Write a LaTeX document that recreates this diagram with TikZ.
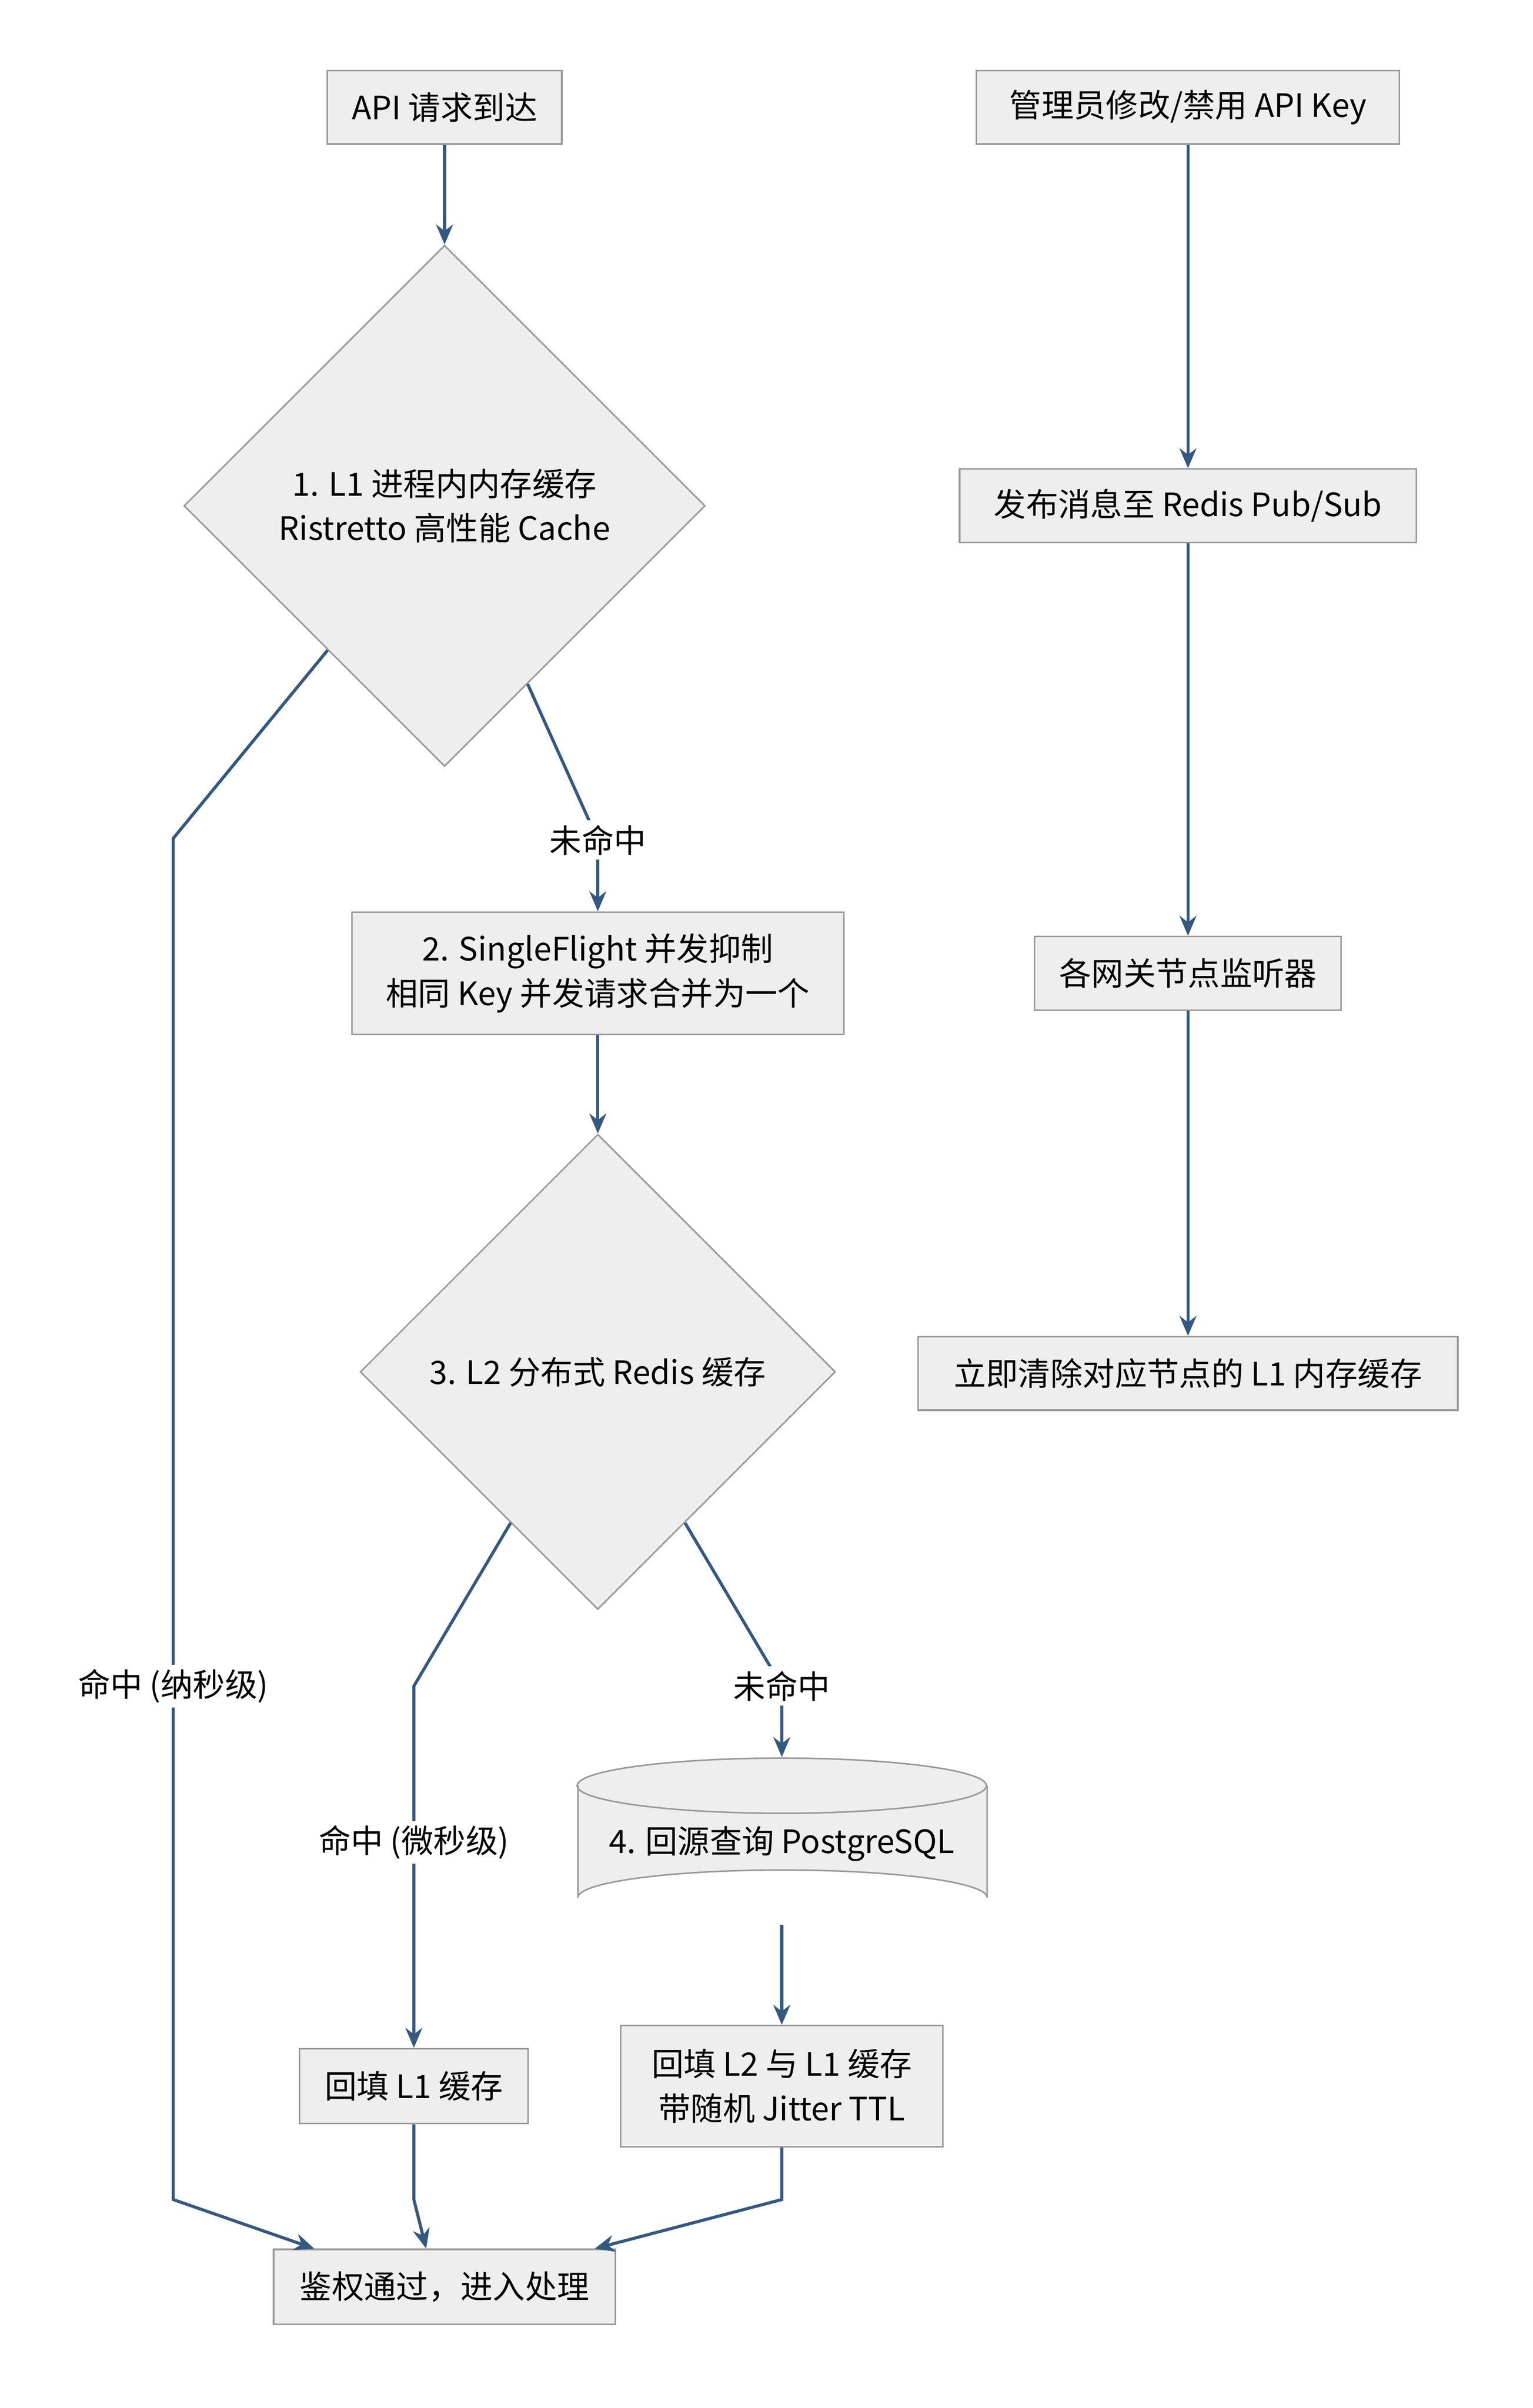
\documentclass[tikz,border=0pt]{standalone}
\usepackage{fontspec}
\setmainfont{Noto Sans CJK SC}
\usetikzlibrary{arrows.meta,shapes.geometric}
\definecolor{fl}{HTML}{EEEEEE}
\definecolor{bd}{HTML}{999999}
\definecolor{ar}{HTML}{34587F}
\begin{document}
\begin{tikzpicture}[x=1pt,y=-1pt,
  every node/.style={font=\fontsize{21}{29}\selectfont},
  box/.style={draw=bd,fill=fl,line width=1pt,align=center,inner sep=0pt},
  dia/.style={diamond,draw=bd,fill=fl,line width=1pt,align=center,inner sep=0pt},
  lab/.style={fill=white,inner sep=3pt},
  con/.style={draw=ar,line width=2pt,-{Stealth[length=13pt,width=11pt]}},
  ln/.style={draw=ar,line width=2pt}]
\useasboundingbox (0,0) rectangle (1000,1571);
\fill[white] (0,0) rectangle (1000,1571);
\node[box,minimum width=153,minimum height=48] (a) at (290,70) {API 请求到达};
\node[dia,minimum width=340,minimum height=340] (d1) at (290,330) {1. L1 进程内内存缓存\\Ristretto 高性能 Cache};
\node[box,minimum width=321,minimum height=80] (b) at (390,635) {2. SingleFlight 并发抑制\\相同 Key 并发请求合并为一个};
\node[dia,minimum width=310,minimum height=310] (d2) at (390,895) {3. L2 分布式 Redis 缓存};
\node[minimum width=267,minimum height=109,inner sep=0pt] (db) at (510,1201) {};
\fill[fl] (377,1165) -- (377,1238) arc[start angle=180,end angle=360,x radius=133.5,y radius=18] -- (644,1165) arc[start angle=0,end angle=-180,x radius=133.5,y radius=18] -- cycle;
\draw[bd,line width=1pt] (377,1165) -- (377,1238) arc[start angle=180,end angle=360,x radius=133.5,y radius=18] -- (644,1165);
\draw[bd,line width=1pt] (510,1165) ellipse[x radius=133.5,y radius=18];
\node at (510,1203) {4. 回源查询 PostgreSQL};
\node[box,minimum width=210,minimum height=79] (r2) at (510,1361) {回填 L2 与 L1 缓存\\带随机 Jitter TTL};
\node[box,minimum width=149,minimum height=49] (r1) at (270,1361) {回填 L1 缓存};
\node[box,minimum width=223,minimum height=49] (e) at (290,1492) {鉴权通过，进入处理};
\node[box,minimum width=276,minimum height=48] (m1) at (775,70) {管理员修改/禁用 API Key};
\node[box,minimum width=298,minimum height=48] (m2) at (775,330) {发布消息至 Redis Pub/Sub};
\node[box,minimum width=200,minimum height=48] (m3) at (775,635) {各网关节点监听器};
\node[box,minimum width=352,minimum height=48] (m4) at (775,896) {立即清除对应节点的 L1 内存缓存};
\coordinate (h1) at (113,547);
\coordinate (h2) at (113,1435);
\coordinate (s1) at (270,1100);
\coordinate (t1) at (270,1435);
\coordinate (t2) at (510,1435);
\draw[con] (a) -- (d1);
\draw[con] (d1.231) -- (h1) -- (h2) -- (205,1467);
\node[lab] at (113,1100) {命中 (纳秒级)};
\draw[con] (d1.295) -- (390,548) -- (b);
\node[lab] at (390,548) {未命中};
\draw[con] (b) -- (d2);
\draw[con] (d2.240) -- (s1) -- (r1);
\node[lab] at (270,1202) {命中 (微秒级)};
\draw[con] (d2.300) -- (510,1100) -- (db.north);
\node[lab] at (510,1100) {未命中};
\draw[con] (db.south) -- (r2);
\draw[con] (r1) -- (t1) -- (278,1467);
\draw[con] (r2) -- (t2) -- (388,1467);
\draw[con] (m1) -- (m2);
\draw[con] (m2) -- (m3);
\draw[con] (m3) -- (m4);
\end{tikzpicture}
\end{document}
